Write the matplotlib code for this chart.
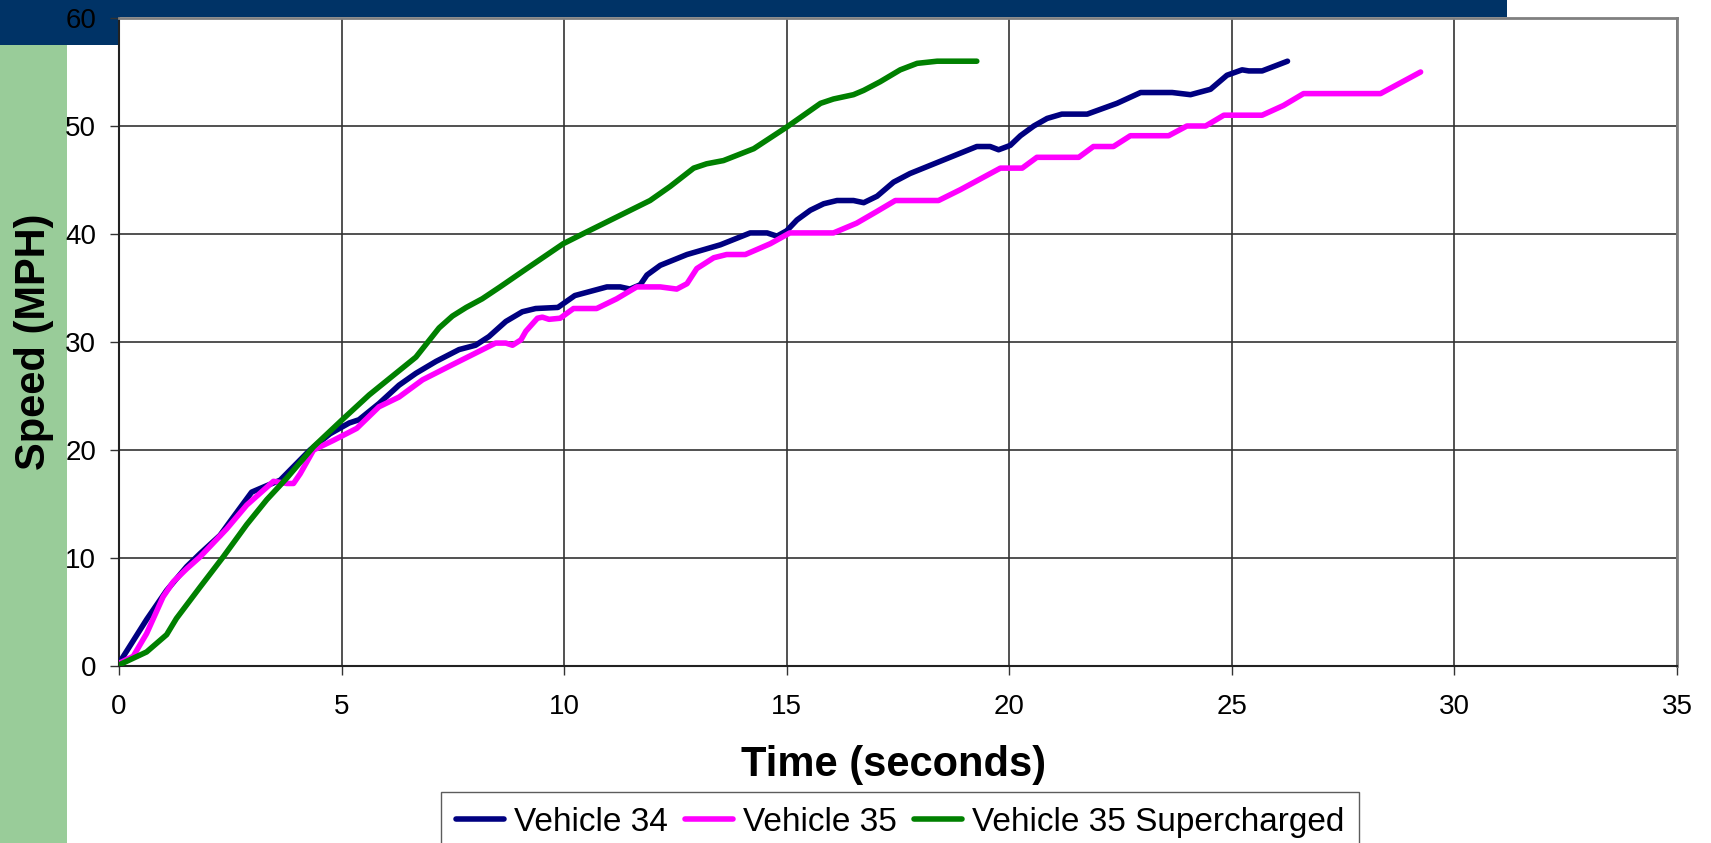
import matplotlib
matplotlib.use("Agg")
import matplotlib.pyplot as plt
from matplotlib.patches import Rectangle
import numpy as np

plt.rcParams['font.family'] = ['Liberation Sans', 'DejaVu Sans']

# Vehicle 34 (navy)
t_v34 = [0, 0.62, 1.07, 1.52, 1.82, 2.27, 2.57, 2.98, 3.32, 3.62,
         4.29, 4.74, 5.17, 5.39, 5.84, 6.29, 6.67, 7.12, 7.64, 8.01,
         8.31, 8.69, 9.06, 9.36, 9.86, 10.24, 10.96, 11.26, 11.48, 11.71,
         11.86, 12.16, 12.76, 13.51, 14.18, 14.56, 14.78, 15.0, 15.23, 15.53,
         15.83, 16.13, 16.5, 16.73, 17.03, 17.4, 17.77, 18.67, 19.27, 19.57,
         19.76, 20.02, 20.25, 20.55, 20.85, 21.18, 21.75, 22.42, 22.95, 23.66,
         24.07, 24.52, 24.89, 25.23, 25.38, 25.68, 26.25]
v_v34 = [0.25, 4.3, 7.0, 9.2, 10.4, 12.1, 13.8, 16.1, 16.7, 17.2,
         20.0, 21.5, 22.5, 22.8, 24.3, 26.0, 27.1, 28.2, 29.3, 29.7,
         30.5, 31.9, 32.8, 33.1, 33.2, 34.3, 35.1, 35.1, 34.9, 35.3,
         36.2, 37.1, 38.1, 39.0, 40.1, 40.1, 39.8, 40.3, 41.3, 42.2,
         42.8, 43.1, 43.1, 42.9, 43.5, 44.8, 45.6, 47.1, 48.1, 48.1,
         47.8, 48.2, 49.1, 50.0, 50.7, 51.1, 51.1, 52.1, 53.1, 53.1,
         52.9, 53.4, 54.7, 55.2, 55.1, 55.1, 56.0]

# Vehicle 35 (magenta)
t_v35 = [0, 0.32, 0.62, 0.99, 1.22, 1.52, 1.82, 2.42, 2.87, 3.47,
         3.77, 3.92, 4.07, 4.37, 4.82, 5.34, 5.84, 6.29, 6.82, 7.49,
         8.46, 8.69, 8.84, 9.03, 9.14, 9.40, 9.51, 9.66, 9.91, 10.21,
         10.73, 11.18, 11.63, 12.16, 12.53, 12.76, 12.98, 13.36, 13.65, 14.07,
         14.63, 15.07, 16.05, 16.57, 17.03, 17.44, 18.41, 18.9, 19.35, 19.8,
         20.29, 20.62, 21.56, 21.89, 22.34, 22.72, 23.58, 23.99, 24.41, 24.82,
         25.68, 26.16, 26.61, 28.34, 29.24]
v_v35 = [0.25, 0.9, 3.0, 6.4, 7.8, 9.0, 10.1, 12.7, 14.9, 17.1,
         16.9, 16.9, 17.8, 20.0, 20.9, 22.0, 24.0, 24.9, 26.5, 27.9,
         29.9, 29.9, 29.7, 30.2, 31.0, 32.2, 32.3, 32.1, 32.2, 33.1,
         33.1, 34.0, 35.1, 35.1, 34.9, 35.4, 36.8, 37.8, 38.1, 38.1,
         39.1, 40.1, 40.1, 41.0, 42.1, 43.1, 43.1, 44.1, 45.1, 46.1,
         46.1, 47.1, 47.1, 48.1, 48.1, 49.1, 49.1, 50.0, 50.0, 51.0,
         51.0, 51.9, 53.0, 53.0, 55.0]

# Vehicle 35 Supercharged (green)
t_v35s = [0, 0.62, 1.07, 1.29, 1.82, 2.34, 2.87, 3.32, 3.77, 4.37,
          5.04, 5.62, 6.22, 6.67, 7.19, 7.49, 7.8, 8.16, 8.56, 9.16,
          9.98, 10.51, 11.93, 12.38, 12.91, 13.2, 13.58, 14.26, 15.0, 15.76,
          16.05, 16.5, 16.73, 17.1, 17.55, 17.93, 18.38, 19.27]
v_v35s = [0.1, 1.3, 2.9, 4.4, 7.3, 10.1, 13.1, 15.4, 17.4, 20.3,
          22.9, 25.1, 27.1, 28.6, 31.3, 32.4, 33.2, 34.0, 35.1, 36.8,
          39.1, 40.2, 43.1, 44.4, 46.1, 46.5, 46.8, 47.9, 49.9, 52.1,
          52.5, 52.9, 53.3, 54.1, 55.2, 55.8, 56.0, 56.0]

series = [
    ("Vehicle 34", t_v34, v_v34, "#000080"),
    ("Vehicle 35", t_v35, v_v35, "#FF00FF"),
    ("Vehicle 35 Supercharged", t_v35s, v_v35s, "#008000"),
]

W, H = 1711, 843
fig = plt.figure(figsize=(W / 100, H / 100), dpi=100)
fig.patch.set_facecolor("white")

# slide decorations behind the chart
navy = "#003366"
fig.add_artist(Rectangle((0, 1 - 17 / H), 1507 / W, 17 / H, transform=fig.transFigure,
                         facecolor=navy, edgecolor="none", zorder=-2))
fig.add_artist(Rectangle((0, 1 - 45 / H), 118 / W, 45 / H, transform=fig.transFigure,
                         facecolor=navy, edgecolor="none", zorder=-2))
fig.add_artist(Rectangle((0, 0), 67 / W, 1 - 45 / H, transform=fig.transFigure,
                         facecolor="#99CC99", edgecolor="none", zorder=-2))

ax = fig.add_axes([119 / W, 1 - 666 / H, (1677 - 119) / W, (666 - 18) / H])
ax.set_facecolor("white")

for label, t, v, c in series:
    ax.plot(t, v, color=c, lw=4, label=label, solid_capstyle="round",
            solid_joinstyle="round", zorder=3)

ax.set_xlim(0, 35)
ax.set_ylim(0, 60)
ax.set_xticks(np.arange(0, 36, 5))
ax.set_yticks(np.arange(0, 61, 10))
ax.grid(True, color="#333333", lw=1.2)
ax.set_axisbelow(True)

ax.tick_params(axis="both", direction="out", length=6.5, width=1, color="#333333",
               labelsize=20)
ax.tick_params(axis="x", pad=14)
ax.tick_params(axis="y", pad=10)

for side in ["top", "right"]:
    ax.spines[side].set_color("#808080")
    ax.spines[side].set_linewidth(2)
for side in ["left", "bottom"]:
    ax.spines[side].set_color("#222222")
    ax.spines[side].set_linewidth(1.5)

ax.set_xlabel("Time (seconds)", fontsize=30, fontweight="bold", va="center")
ax.xaxis.set_label_coords(0.497, -0.153)
ax.set_ylabel("Speed (MPH)", fontsize=30, fontweight="bold", va="center")
ax.yaxis.set_label_coords(-0.0546, 0.5)

leg = fig.legend(loc="upper center", bbox_to_anchor=(900 / W, 1 - 792 / H), ncol=3,
                 fontsize=24, frameon=True, fancybox=False, borderaxespad=0,
                 handlelength=1.45, handletextpad=0.3, columnspacing=0.5,
                 borderpad=0.45)
leg.get_frame().set_edgecolor("#333333")
leg.get_frame().set_linewidth(1)
for line in leg.get_lines():
    line.set_linewidth(4)

fig.savefig("out.png", dpi=100)
